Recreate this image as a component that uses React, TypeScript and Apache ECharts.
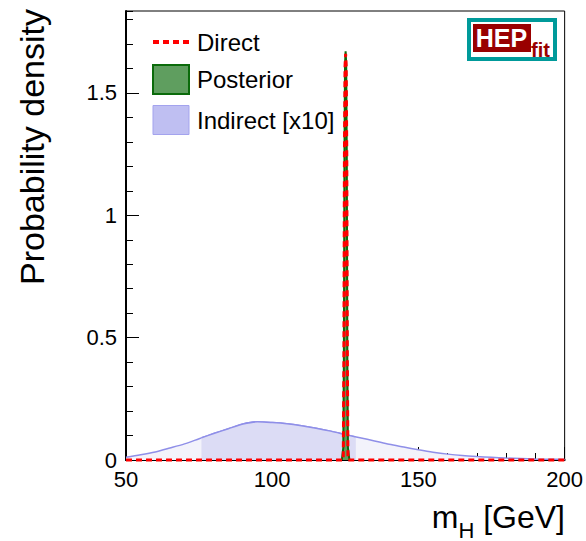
import React, { useEffect, useRef } from "react";
import * as echarts from "echarts";

const FONT = "'Liberation Sans', Arial, Helvetica, sans-serif";

// Indirect determination of the Higgs mass, density scaled by 10
const indirectMass = [50, 55, 60, 65, 70, 75, 80, 85, 90, 95, 100, 105, 110, 115, 120, 125, 130, 135, 140, 145, 150, 155, 160, 165, 170, 175, 180, 185, 190, 195, 200];
const indirectDensity = [0.011, 0.021, 0.033, 0.049, 0.066, 0.087, 0.108, 0.128, 0.147, 0.156, 0.153, 0.148, 0.14, 0.13, 0.118, 0.104, 0.091, 0.078, 0.064, 0.053, 0.042, 0.032, 0.024, 0.018, 0.014, 0.011, 0.008, 0.006, 0.004, 0.003, 0.002];

// 68% interval of the indirect distribution
const bandMass = [75.8, 80, 85, 90, 95, 100, 105, 110, 115, 120, 125, 128.6];
const bandDensity = [0.091, 0.108, 0.128, 0.147, 0.156, 0.153, 0.148, 0.14, 0.13, 0.118, 0.104, 0.094];

// Posterior of the full fit
const posteriorMass = [123.8, 124.3, 124.5, 124.7, 124.9, 125.1, 125.3, 125.5, 125.7, 125.9, 126.4];
const posteriorDensity = [0, 0.05, 0.4, 1.25, 1.62, 1.67, 1.62, 1.25, 0.4, 0.05, 0];

// Direct measurement
const directMass = [50, 124.3, 124.5, 124.7, 124.9, 125.1, 125.3, 125.5, 125.7, 125.9, 200];
const directDensity = [0, 0, 0.4, 1.25, 1.61, 1.66, 1.61, 1.25, 0.4, 0, 0];

const X_MIN = 50;
const X_MAX = 200;
const X_STEP = 50;
const Y_MAX = 1.835;

const pairs = (xs: number[], ys: number[]) => xs.map((x, i) => [x, ys[i]]);

const DASH_ICON = "path://M0 0h6v4H0z M10 0h6v4h-6z M20 0h6v4h-6z M30 0h6v4h-6z";

export default function App() {
  const ref = useRef<HTMLDivElement>(null);

  useEffect(() => {
    if (!ref.current) return;
    const chart = echarts.init(ref.current, undefined, { renderer: "svg" });

    const black = "#000";
    chart.setOption({
      animation: false,
      backgroundColor: "#fff",
      textStyle: { fontFamily: FONT },
      grid: {
        left: 126,
        right: 20,
        top: 11,
        bottom: 81,
        show: true,
        borderColor: black,
        borderWidth: 1,
        backgroundColor: "transparent",
      },
      xAxis: {
        type: "value",
        min: X_MIN,
        max: X_MAX,
        interval: X_STEP,
        position: "bottom",
        axisLine: { show: true, onZero: false, lineStyle: { color: black, width: 2 } },
        axisTick: { show: true, inside: true, length: 13, lineStyle: { color: black, width: 1 } },
        minorTick: { show: true, splitNumber: 5, length: 7, lineStyle: { color: black, width: 1 } },
        axisLabel: { color: black, fontSize: 22, margin: 8, fontFamily: FONT },
        splitLine: { show: false },
        minorSplitLine: { show: false },
      },
      yAxis: [
        {
          type: "value",
          min: 0,
          max: Y_MAX,
          interval: 0.5,
          position: "left",
          axisLine: { show: true, onZero: false, lineStyle: { color: black, width: 2 } },
          axisTick: { show: true, inside: true, length: 13, lineStyle: { color: black, width: 1 } },
          axisLabel: { color: black, fontSize: 22, margin: 9, fontFamily: FONT, showMaxLabel: false },
          splitLine: { show: false },
        },
        {
          type: "value",
          min: 0,
          max: Y_MAX,
          interval: 0.1,
          position: "left",
          axisLine: { show: false },
          axisTick: { show: true, inside: true, length: 7, lineStyle: { color: black, width: 1 } },
          axisLabel: { show: false },
          splitLine: { show: false },
        },
      ],
      legend: {
        orient: "vertical",
        left: 152,
        top: 30,
        padding: 0,
        itemWidth: 36,
        itemHeight: 29,
        itemGap: 10,
        selectedMode: false,
        textStyle: { fontSize: 24, color: black, fontFamily: FONT, padding: [0, 0, 0, 3] },
        data: [
          { name: "Direct", icon: DASH_ICON, itemStyle: { color: "#ff0000", borderWidth: 0 } },
          {
            name: "Posterior",
            icon: "rect",
            itemStyle: { color: "#5f9e5f", borderColor: "#0b6b0b", borderWidth: 2 },
          },
          {
            name: "Indirect [x10]",
            icon: "rect",
            itemStyle: { color: "#bfbff2", borderColor: "#a3a3ee", borderWidth: 1 },
          },
        ],
      },
      graphic: [
        {
          type: "text",
          x: 32,
          y: 147,
          rotation: Math.PI / 2,
          style: {
            text: "Probability density",
            fontSize: 34,
            fontFamily: FONT,
            fill: black,
            align: "center",
            verticalAlign: "middle",
          },
        },
        {
          type: "text",
          x: 565,
          y: 499,
          style: {
            text: "{m|m}{s|H}{m| [GeV]}",
            align: "right",
            verticalAlign: "top",
            fill: black,
            fontFamily: FONT,
            rich: {
              m: { fontSize: 32, lineHeight: 36, fontFamily: FONT, fill: black },
              s: { fontSize: 22, lineHeight: 22, fontFamily: FONT, fill: black, padding: [26, 0, 0, 0] },
            },
          },
        },
        {
          type: "group",
          children: [
            {
              type: "rect",
              shape: { x: 469, y: 20, width: 86, height: 39 },
              style: { fill: "#fff", stroke: "#009a9a", lineWidth: 4 },
            },
            {
              type: "rect",
              shape: { x: 473, y: 24, width: 58, height: 28 },
              style: { fill: "#990000" },
            },
            {
              type: "text",
              x: 501.5,
              y: 38,
              style: {
                text: "HEP",
                fontSize: 25,
                fontWeight: "bold",
                fontFamily: FONT,
                fill: "#fff",
                align: "center",
                verticalAlign: "middle",
              },
            },
            {
              type: "text",
              x: 531,
              y: 49.5,
              style: {
                text: "fit",
                fontSize: 20,
                fontWeight: "bold",
                fontFamily: FONT,
                fill: "#990000",
                align: "left",
                verticalAlign: "middle",
              },
            },
          ],
        },
      ],
      series: [
        {
          name: "Indirect [x10]",
          type: "line",
          data: pairs(indirectMass, indirectDensity),
          smooth: 0.3,
          symbol: "none",
          clip: false,
          z: 1,
          lineStyle: { color: "#8f8fe8", width: 1.5 },
          areaStyle: { color: "#f3f3fb", opacity: 1 },
          itemStyle: { color: "#bfbff2" },
        },
        {
          name: "Indirect 68%",
          type: "line",
          data: pairs(bandMass, bandDensity),
          smooth: 0.3,
          symbol: "none",
          clip: false,
          z: 2,
          lineStyle: { color: "#8f8fe8", width: 1.5 },
          areaStyle: { color: "#dcdcf5", opacity: 1 },
        },
        {
          name: "Posterior",
          type: "line",
          data: pairs(posteriorMass, posteriorDensity),
          symbol: "none",
          clip: false,
          z: 3,
          lineStyle: { color: "#0b6b0b", width: 2 },
          areaStyle: { color: "#5f9e5f", opacity: 1 },
          itemStyle: { color: "#5f9e5f" },
        },
        {
          name: "Direct",
          type: "line",
          data: pairs(directMass, directDensity),
          symbol: "none",
          clip: false,
          z: 4,
          lineStyle: { color: "#ff0000", width: 3, type: [6, 4] },
          itemStyle: { color: "#ff0000" },
        },
      ],
    });

    return () => chart.dispose();
  }, []);

  return (
    <div
      ref={ref}
      style={{ position: "fixed", left: 0, top: 0, width: 586, height: 541, background: "#fff" }}
    />
  );
}
